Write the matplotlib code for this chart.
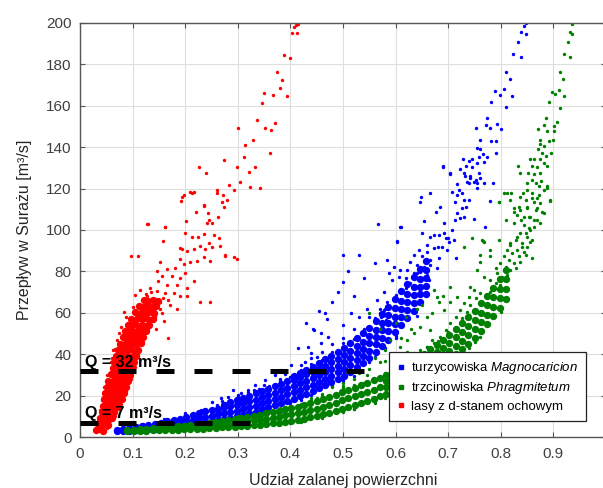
import matplotlib.pyplot as plt
from matplotlib.lines import Line2D

plt.rcParams['font.family'] = ['Liberation Sans', 'DejaVu Sans']
plt.rcParams['mathtext.fontset'] = 'custom'
plt.rcParams['mathtext.rm'] = 'Liberation Sans'
plt.rcParams['mathtext.it'] = 'Liberation Sans:italic'

# points: (share of flooded area, discharge m3/s)
# "core" = the dense part of each cloud, "spread" = the looser points around it

blue_core = [
    (.070, 2.7), (.070, 3.5), (.082, 2.9), (.082, 3.9), (.094, 3.1), (.094, 4.4), (.106, 3.3), (.106, 4.8),
    (.118, 3.5), (.118, 5.3), (.130, 3.7), (.130, 5.8), (.142, 3.9), (.142, 5.2), (.142, 6.4),
    (.154, 4.2), (.154, 5.6), (.154, 6.9), (.166, 4.5), (.166, 6.0), (.166, 7.5), (.178, 4.8), (.178, 6.4), (.178, 8.1),
    (.190, 5.2), (.190, 7.0), (.190, 8.8), (.202, 5.6), (.202, 7.6), (.202, 9.7), (.214, 6.1), (.214, 8.3), (.214, 10.6),
    (.226, 6.6), (.226, 9.0), (.226, 11.5), (.238, 7.1), (.238, 9.6), (.238, 12.4), (.250, 7.6), (.250, 10.3), (.250, 13.2),
    (.262, 8.1), (.262, 10.9), (.262, 13.7), (.274, 8.7), (.274, 11.5), (.274, 14.3), (.274, 15.6),
    (.286, 9.3), (.286, 12.1), (.286, 14.9), (.286, 16.8), (.298, 10.0), (.298, 12.8), (.298, 15.6), (.298, 18.0),
    (.310, 10.7), (.310, 13.5), (.310, 16.4), (.310, 19.0), (.322, 11.5), (.322, 14.3), (.322, 17.2), (.322, 20.0),
    (.334, 12.3), (.334, 15.2), (.334, 18.1), (.334, 21.1), (.346, 13.3), (.346, 16.2), (.346, 19.1), (.346, 22.3),
    (.358, 14.3), (.358, 17.2), (.358, 20.2), (.358, 23.4), (.370, 15.3), (.370, 18.3), (.370, 21.3), (.370, 24.6),
    (.382, 16.4), (.382, 19.5), (.382, 22.6), (.382, 25.7), (.394, 17.5), (.394, 20.6), (.394, 23.7), (.394, 27.0),
    (.406, 18.6), (.406, 21.7), (.406, 24.8), (.406, 27.7), (.406, 29.3),
    (.418, 19.8), (.418, 22.9), (.418, 26.0), (.418, 29.0), (.418, 30.8),
    (.430, 21.0), (.430, 24.1), (.430, 27.2), (.430, 30.2), (.430, 32.3),
    (.442, 22.2), (.442, 25.3), (.442, 28.5), (.442, 31.5), (.442, 34.0),
    (.454, 23.6), (.454, 26.7), (.454, 29.9), (.454, 33.0), (.454, 35.8),
    (.466, 25.1), (.466, 28.2), (.466, 31.4), (.466, 34.5), (.466, 37.6),
    (.478, 26.6), (.478, 29.7), (.478, 32.9), (.478, 36.1), (.478, 39.3),
    (.490, 28.1), (.490, 31.3), (.490, 34.5), (.490, 37.8), (.490, 41.2),
    (.502, 29.6), (.502, 32.9), (.502, 36.2), (.502, 39.6), (.502, 43.2),
    (.514, 31.6), (.514, 34.9), (.514, 38.2), (.514, 41.5), (.514, 45.4),
    (.526, 33.6), (.526, 37.0), (.526, 40.4), (.526, 43.8), (.526, 47.6),
    (.538, 35.6), (.538, 39.1), (.538, 42.6), (.538, 46.1), (.538, 50.0),
    (.550, 38.1), (.550, 41.7), (.550, 45.3), (.550, 48.9), (.550, 52.6),
    (.562, 41.1), (.562, 44.7), (.562, 48.3), (.562, 51.9), (.562, 56.0),
    (.574, 44.1), (.574, 47.8), (.574, 51.5), (.574, 55.3), (.574, 59.5),
    (.586, 47.1), (.586, 51.0), (.586, 54.9), (.586, 58.8), (.586, 63.0),
    (.598, 50.6), (.598, 54.4), (.598, 58.2), (.598, 62.1), (.598, 66.8),
    (.610, 54.1), (.610, 57.9), (.610, 61.7), (.610, 65.6), (.610, 70.3),
    (.622, 57.6), (.622, 61.4), (.622, 65.2), (.622, 69.0), (.622, 73.8),
    (.634, 61.1), (.634, 64.9), (.634, 68.7), (.634, 72.5), (.634, 77.2),
    (.646, 65.1), (.646, 68.9), (.646, 72.7), (.646, 76.5), (.646, 81.0),
    (.658, 69.1), (.658, 72.9), (.658, 76.7), (.658, 80.5), (.658, 85.0),
]

blue_spread = [
    (.847, 200), (.845, 198.7), (.839, 195.5), (.847, 194.7), (.832, 191), (.823, 185), (.839, 183.4),
    (.809, 176.5), (.817, 173), (.789, 167.3), (.798, 165.2), (.806, 168), (.821, 164.8), (.782, 162),
    (.810, 159.2), (.774, 154.2), (.752, 149.4), (.771, 150.6), (.780, 149.5), (.792, 151.3), (.801, 148.7),
    (.760, 143.5), (.755, 139.8), (.761, 139), (.782, 143), (.790, 143), (.790, 137), (.766, 136.6),
    (.774, 135.5), (.758, 135.5), (.746, 134.2), (.728, 134.5), (.739, 133.4), (.755, 132.6), (.768, 133),
    (.690, 131), (.703, 127.4), (.733, 131), (.723, 129.4), (.746, 130.2), (.732, 126.1), (.742, 126.1),
    (.758, 127.7), (.749, 123.4), (.755, 122.9), (.761, 125.3), (.768, 122.9), (.716, 122.4), (.739, 122.9),
    (.785, 122.9),
    (.566, 102.9), (.611, 101.3), (.603, 94.5), (.647, 113.7), (.649, 116.1), (.666, 118.1), (.677, 108.9),
    (.685, 111.3), (.692, 103.5), (.691, 130.6), (.703, 127), (.708, 118.5), (.713, 113.7), (.716, 116.9),
    (.720, 119.4), (.727, 117.7), (.730, 114.5), (.727, 110.5), (.717, 108), (.713, 104.8), (.723, 105.6),
    (.730, 106.5), (.733, 111.3), (.739, 114.5), (.749, 105.2), (.754, 120.2), (.742, 125), (.730, 127.4),
    (.736, 123.4), (.752, 124.2), (.654, 104.5), (.673, 97.6), (.692, 98.4), (.708, 100), (.699, 96),
    (.680, 92), (.660, 92.7), (.769, 101.6), (.779, 114.2),
    (.609, 101.3), (.651, 98.4), (.666, 96.8), (.682, 97.6), (.695, 96), (.701, 94.4), (.711, 95.2),
    (.689, 92), (.698, 90.4), (.673, 91.2), (.660, 89.6), (.644, 90.4), (.603, 94.4), (.635, 88),
    (.651, 87.2), (.666, 85.5), (.682, 86.3), (.628, 84.7), (.641, 83.1), (.654, 82.3), (.666, 83.1),
    (.679, 81.5), (.714, 86.3), (.584, 85.5), (.597, 82.3), (.609, 80.7), (.622, 80.7), (.635, 79.1),
    (.647, 79.9), (.660, 78.3), (.663, 75.9),
    (.587, 79.1), (.594, 75.9), (.606, 77.5), (.619, 76.7), (.628, 74.3), (.578, 70.2), (.584, 65.4),
    (.578, 61.4), (.572, 58.2), (.581, 56.6), (.575, 53.3),
    (.443, 52), (.459, 50), (.465, 59.7), (.414, 42.8), (.433, 43.6), (.440, 40.4), (.459, 45.2),
    (.471, 48.4), (.427, 36.4), (.402, 34.8), (.383, 32.3), (.370, 29.9), (.351, 27.5), (.332, 25.1),
    (.319, 22.7), (.306, 21.1), (.281, 19.5), (.268, 18.7), (.290, 22.7),
    (.430, 55), (.445, 51.5), (.455, 61), (.470, 57), (.480, 65), (.490, 70), (.500, 75), (.520, 68),
    (.510, 80), (.530, 88), (.500, 88), (.540, 77), (.560, 84), (.545, 62), (.530, 58), (.565, 66),
    (.500, 54), (.515, 60),
    (.200, 11.5), (.230, 13), (.260, 15.5), (.160, 8.5), (.120, 6.3), (.350, 25), (.380, 28), (.300, 20.5),
    (.250, 17), (.480, 45), (.500, 48), (.520, 52), (.460, 41), (.440, 38), (.420, 35), (.550, 58),
    (.570, 62), (.300, 9), (.400, 17), (.500, 28), (.550, 36), (.600, 49),
    (.260, 15.2), (.280, 16.5), (.300, 19.5), (.320, 21.5), (.340, 23), (.360, 24.5), (.380, 27.5),
    (.400, 29), (.420, 32.5), (.440, 35.5), (.460, 37), (.480, 41), (.500, 45.5), (.520, 47.5),
    (.540, 52), (.560, 57.5), (.580, 62), (.600, 68.5), (.620, 72), (.640, 79), (.270, 17.5),
    (.330, 22.8), (.390, 30.5), (.450, 38.5), (.510, 44.8), (.570, 60),
    (.280, 8), (.320, 10.4), (.360, 13), (.400, 16.5), (.440, 20.5), (.480, 24.8), (.520, 29.5),
    (.560, 38.5), (.600, 48), (.640, 58.5), (.340, 11.5), (.420, 18), (.500, 27), (.580, 43),
]

green_core = [
    (.090, 2.8), (.090, 3.4), (.102, 2.9), (.102, 3.6), (.114, 3.0), (.114, 3.8), (.126, 3.1), (.126, 4.0),
    (.138, 3.2), (.138, 4.3), (.150, 3.3), (.150, 4.5), (.162, 3.4), (.162, 4.7), (.174, 3.5), (.174, 5.0),
    (.186, 3.6), (.186, 5.2), (.198, 3.7), (.198, 5.5), (.210, 3.8), (.210, 5.7), (.222, 3.9), (.222, 6.0),
    (.234, 4.0), (.234, 6.3), (.246, 4.2), (.246, 5.5), (.246, 6.7), (.258, 4.4), (.258, 5.8), (.258, 7.1),
    (.270, 4.6), (.270, 6.1), (.270, 7.6), (.282, 4.8), (.282, 6.5), (.282, 8.1), (.294, 5.0), (.294, 6.9),
    (.294, 8.7), (.306, 5.2), (.306, 7.3), (.306, 9.3), (.318, 5.4), (.318, 7.6), (.318, 9.8),
    (.330, 5.6), (.330, 8.0), (.330, 10.3), (.342, 5.9), (.342, 8.4), (.342, 10.8), (.354, 6.2), (.354, 8.8),
    (.354, 11.4), (.366, 6.6), (.366, 9.3), (.366, 12.0), (.378, 7.0), (.378, 9.9), (.378, 12.7),
    (.390, 7.4), (.390, 10.4), (.390, 13.3), (.402, 7.8), (.402, 10.9), (.402, 14.0), (.414, 8.3),
    (.414, 11.5), (.414, 14.7), (.426, 8.9), (.426, 12.2), (.426, 15.5), (.438, 9.5), (.438, 12.9),
    (.438, 16.4), (.450, 10.2), (.450, 13.7), (.450, 17.4), (.462, 11.0), (.462, 14.5), (.462, 18.4),
    (.474, 11.8), (.474, 15.4), (.474, 19.4), (.486, 12.7), (.486, 16.6), (.486, 20.5), (.498, 13.7),
    (.498, 17.7), (.498, 21.6), (.510, 14.6), (.510, 18.7), (.510, 22.7), (.522, 15.5), (.522, 19.7),
    (.522, 23.8), (.534, 16.4), (.534, 20.6), (.534, 24.9), (.546, 17.4), (.546, 21.7), (.546, 26.1),
    (.558, 18.6), (.558, 22.9), (.558, 27.3), (.570, 19.8), (.570, 24.1), (.570, 28.5),
    (.582, 21.0), (.582, 24.0), (.582, 27.0), (.582, 29.9), (.594, 22.3), (.594, 25.4), (.594, 28.5), (.594, 31.4),
    (.606, 23.6), (.606, 26.7), (.606, 29.8), (.606, 32.9), (.618, 25.0), (.618, 28.2), (.618, 31.4), (.618, 34.5),
    (.630, 26.4), (.630, 29.7), (.630, 33.0), (.630, 36.3), (.642, 28.0), (.642, 31.4), (.642, 34.8), (.642, 38.2),
    (.654, 29.7), (.654, 33.2), (.654, 36.7), (.654, 40.2), (.666, 31.6), (.666, 35.2), (.666, 38.8), (.666, 42.3),
    (.678, 33.6), (.678, 37.3), (.678, 41.0), (.678, 44.5), (.690, 35.7), (.690, 39.5), (.690, 43.2), (.690, 46.9),
    (.702, 37.8), (.702, 41.7), (.702, 45.6), (.702, 49.4), (.714, 40.0), (.714, 44.0), (.714, 48.1), (.714, 52.1),
    (.726, 42.4), (.726, 46.6), (.726, 50.8), (.726, 54.9), (.738, 45.0), (.738, 49.3), (.738, 53.6), (.738, 57.9),
    (.750, 47.8), (.750, 52.2), (.750, 56.6), (.750, 61.1), (.762, 51.0), (.762, 55.5), (.762, 60.0), (.762, 64.5),
    (.774, 54.5), (.774, 59.1), (.774, 63.7), (.774, 68.2), (.786, 58.3), (.786, 62.9), (.786, 67.5), (.786, 72.2),
    (.798, 62.3), (.798, 67.0), (.798, 71.7), (.798, 76.4), (.810, 66.5), (.810, 71.3), (.810, 76.1), (.810, 80.9),
]

green_spread = [
    (.935, 199.5), (.932, 195.5), (.935, 194.7), (.927, 191), (.921, 185), (.932, 183.4), (.913, 176.5),
    (.918, 173), (.897, 166.5), (.903, 165.6), (.910, 167.7), (.921, 164.8), (.892, 161.6), (.913, 158.7),
    (.886, 154), (.870, 149), (.883, 150.6), (.901, 150.3), (.906, 152), (.888, 147.9), (.901, 148),
    (.874, 143.5), (.874, 141.5), (.891, 143), (.899, 143.5), (.882, 140.6), (.896, 137), (.885, 135.8),
    (.879, 137.4), (.870, 139), (.832, 131), (.837, 127.4), (.856, 134.2), (.863, 134.5), (.875, 134.2),
    (.882, 132.2), (.859, 131), (.869, 130.2), (.888, 131), (.852, 127.7), (.864, 127), (.875, 127.4),
    (.850, 122.9), (.859, 124), (.866, 122.9), (.877, 123.7), (.887, 121.3), (.872, 121.3),
    (.766, 94.8), (.796, 113.7), (.806, 118.1), (.820, 118.1), (.825, 108.9), (.834, 111.3), (.839, 104.8),
    (.842, 117.7), (.850, 111.3), (.853, 106.5), (.863, 104.8), (.856, 100), (.847, 98.4), (.831, 96.8),
    (.818, 93.5), (.840, 92), (.856, 94.4), (.869, 115.3), (.859, 115.3), (.868, 110.5), (.875, 103.2),
    (.882, 108), (.893, 114.2), (.887, 120.2),
    (.850, 119.4), (.859, 117.7), (.872, 116.9), (.882, 119.4), (.894, 114.5), (.837, 116.1), (.847, 114.5),
    (.863, 113.7), (.875, 112.9), (.812, 117.7), (.796, 113.7), (.818, 114.5), (.825, 110.5), (.837, 109.7),
    (.850, 110.5), (.866, 109.7), (.878, 108.9), (.831, 107.3), (.844, 106.5), (.856, 106.5), (.869, 104.9),
    (.809, 104.9), (.825, 103.3), (.844, 102.5), (.853, 100.8), (.863, 101.6),
    (.837, 98.4), (.850, 96.8), (.859, 95.2), (.828, 95.2), (.840, 93.6), (.850, 92), (.818, 92.8),
    (.831, 90.4), (.844, 89.6), (.812, 90.4), (.822, 88.8), (.834, 87.2), (.847, 88), (.859, 86.3),
    (.806, 87.2), (.815, 85.5), (.825, 83.9), (.837, 84.7), (.799, 83.9), (.809, 82.3), (.818, 80.7),
    (.828, 81.5), (.790, 81.5), (.768, 94.4), (.780, 87.2), (.761, 84.7), (.780, 90.4), (.793, 79.1),
    (.803, 77.5), (.812, 78.3),
    (.755, 80.7), (.768, 77.5), (.780, 75.9), (.790, 74.3), (.799, 73.5), (.749, 71), (.761, 69.4),
    (.739, 67.8), (.752, 67), (.730, 64.6), (.742, 63.8), (.723, 61.4), (.736, 60.6), (.714, 58.2),
    (.727, 57.4), (.704, 55), (.695, 51.7), (.685, 48.5), (.673, 45.3), (.660, 43.7), (.647, 42.1),
    (.635, 40.5), (.622, 41.3), (.609, 43.7), (.603, 39.7),
    (.673, 71), (.679, 67.8), (.704, 72.7), (.682, 65.4), (.704, 65.4), (.717, 67.8), (.742, 72.7),
    (.692, 61.4), (.660, 58.2), (.647, 53.3), (.635, 50.1), (.622, 46.9), (.666, 51.7), (.765, 95.2),
    (.761, 88), (.730, 92), (.746, 96), (.796, 95.2),
    (.560, 38), (.580, 42), (.590, 47), (.570, 36), (.550, 33), (.600, 55), (.620, 58), (.640, 62),
    (.630, 52), (.610, 48), (.650, 64), (.670, 60), (.690, 68), (.545, 30), (.520, 28), (.500, 26),
    (.480, 24), (.460, 21), (.440, 19), (.530, 31), (.580, 36.5), (.620, 38), (.670, 47), (.550, 60),
    (.570, 52),
    (.100, 3.9), (.150, 5.2), (.200, 6.3), (.250, 7.6), (.300, 10), (.350, 12.3), (.400, 15), (.450, 19),
    (.500, 24.5), (.320, 4.8), (.420, 7.2), (.520, 13.5), (.600, 21.5), (.700, 34.5), (.750, 46), (.800, 60.5),
    (.300, 10.3), (.340, 11.8), (.380, 13.8), (.420, 16), (.460, 19.8), (.500, 23.5), (.540, 26.2),
    (.580, 31), (.620, 36), (.660, 43.5), (.700, 50.5), (.740, 59), (.780, 70), (.360, 12.8), (.440, 18),
    (.520, 25), (.600, 34), (.680, 46.5), (.760, 65),
    (.400, 6.8), (.460, 9.2), (.520, 13.4), (.580, 18.8), (.640, 25), (.700, 34.5), (.760, 48.5),
    (.500, 12), (.560, 16.5), (.620, 22.5), (.680, 31), (.740, 43),
]

red_core = [
    (.031, 3.2), (.037, 3.8), (.043, 3.1),
    (.035, 6.2), (.041, 5.7), (.047, 6.4), (.053, 5.9),
    (.038, 9.1), (.044, 8.6), (.050, 9.4), (.056, 8.8), (.061, 9.2),
    (.041, 12.2), (.047, 11.6), (.053, 12.4), (.059, 11.8), (.065, 12.3),
    (.043, 15.1), (.049, 14.6), (.055, 15.4), (.061, 14.8), (.067, 15.3), (.072, 14.7),
    (.045, 18.2), (.051, 17.6), (.057, 18.4), (.063, 17.8), (.069, 18.3), (.075, 17.7), (.079, 18.4),
    (.048, 21.1), (.054, 20.6), (.060, 21.4), (.066, 20.8), (.072, 21.3), (.078, 20.7), (.084, 21.2),
    (.051, 24.2), (.057, 23.6), (.063, 24.4), (.069, 23.8), (.075, 24.3), (.081, 23.7), (.088, 24.1),
    (.054, 27.1), (.060, 26.6), (.066, 27.4), (.072, 26.8), (.078, 27.3), (.084, 26.7), (.091, 27.2),
    (.058, 30.2), (.064, 29.6), (.070, 30.4), (.076, 29.8), (.082, 30.3), (.088, 29.7), (.095, 30.1),
    (.062, 33.1), (.068, 32.6), (.074, 33.4), (.080, 32.8), (.086, 33.3), (.092, 32.7), (.099, 33.2),
    (.065, 36.2), (.071, 35.6), (.077, 36.4), (.083, 35.8), (.089, 36.3), (.095, 35.7), (.102, 36.1),
    (.068, 39.1), (.074, 38.6), (.080, 39.4), (.086, 38.8), (.092, 39.3), (.098, 38.7), (.106, 39.2),
    (.072, 42.2), (.078, 41.6), (.084, 42.4), (.090, 41.8), (.096, 42.3), (.102, 41.7), (.110, 42.1),
    (.076, 45.1), (.082, 44.6), (.088, 45.4), (.094, 44.8), (.100, 45.3), (.107, 44.7), (.115, 45.2),
    (.081, 48.2), (.087, 47.6), (.093, 48.4), (.099, 47.8), (.105, 48.3), (.112, 47.7), (.120, 48.1),
    (.086, 51.1), (.092, 50.6), (.098, 51.4), (.104, 50.8), (.111, 51.3), (.118, 50.7), (.126, 51.2),
    (.091, 54.2), (.097, 53.6), (.104, 54.4), (.111, 53.8), (.118, 54.3), (.125, 53.7), (.132, 54.1),
    (.097, 57.1), (.104, 56.6), (.111, 57.4), (.118, 56.8), (.125, 57.3), (.132, 56.7), (.139, 57.2),
    (.104, 60.2), (.111, 59.6), (.118, 60.4), (.125, 59.8), (.132, 60.3), (.140, 59.7),
    (.112, 63.1), (.120, 62.6), (.128, 63.4), (.136, 62.8), (.144, 63.2),
    (.121, 66.2), (.130, 65.6), (.139, 66.4), (.148, 65.8),
]

red_spread = [
    (.127, 102.9), (.161, 101.3), (.157, 94.5), (.190, 91.1), (.200, 98.4), (.194, 116.1), (.213, 118.1),
    (.227, 130.6), (.239, 127.4), (.236, 111.8), (.246, 104.8), (.260, 119.4), (.270, 113.7), (.274, 133.9),
    (.283, 121.8), (.292, 119.4), (.298, 130.6), (.300, 149.2), (.305, 123.4), (.311, 135.5), (.314, 141.1),
    (.321, 128.2), (.324, 121.0), (.329, 143.5), (.333, 130.6), (.337, 153.2), (.343, 120.2), (.346, 161.3),
    (.349, 166.1), (.352, 149.2), (.361, 137.1), (.363, 148.4), (.367, 165.3), (.371, 151.6), (.375, 176.1),
    (.381, 168.5), (.384, 172.6), (.387, 184.7), (.394, 164.5), (.400, 183.1), (.403, 195.2), (.410, 199.2),
    (.413, 195.2), (.407, 198), (.415, 199.5),
    (.097, 87.2), (.111, 87.2), (.129, 103.1), (.162, 101.5), (.192, 113.8), (.197, 117.0), (.210, 118.2),
    (.216, 118.2), (.202, 104.4), (.221, 108.9), (.236, 112.1), (.244, 108.0), (.241, 103.4), (.251, 103.4),
    (.263, 106.4), (.273, 111.0), (.260, 117.9), (.272, 117.0), (.279, 114.6), (.213, 96.6), (.225, 96.6),
    (.236, 98.2), (.246, 93.6), (.254, 97.4), (.265, 96.2), (.194, 90.8), (.203, 90.0), (.216, 90.8),
    (.229, 92.5), (.238, 90.8), (.251, 91.6), (.267, 92.5), (.276, 88.0), (.190, 85.9), (.181, 81.8),
    (.197, 83.4), (.210, 84.3), (.222, 85.1), (.235, 87.0), (.248, 85.1), (.152, 84.3), (.147, 80.2),
    (.165, 81.0), (.156, 77.7), (.175, 77.7), (.190, 76.9), (.200, 79.3), (.184, 73.6), (.203, 72.0),
    (.216, 75.2), (.229, 65.4), (.165, 73.6), (.149, 75.2), (.133, 72.0), (.114, 71.1), (.105, 68.7),
    (.127, 67.9), (.146, 70.3), (.162, 69.5), (.178, 69.5), (.190, 67.9), (.203, 67.9), (.168, 66.2),
    (.152, 65.4),
    (.292, 86.8), (.298, 86.1), (.276, 87.6), (.248, 65.4), (.168, 47.8), (.083, 60.6), (.067, 42.3),
    (.055, 30), (.048, 22), (.041, 14), (.060, 38), (.074, 50), (.140, 62), (.155, 60), (.160, 56),
    (.145, 52), (.172, 64), (.185, 62),
    (.034, 8), (.038, 13), (.042, 18), (.046, 24), (.052, 30), (.058, 36), (.063, 42), (.070, 47),
    (.078, 53), (.088, 58), (.100, 63),
    (.052, 4.5), (.066, 10), (.078, 16), (.088, 22), (.096, 28), (.104, 34), (.111, 40), (.120, 46),
    (.130, 52), (.142, 58), (.152, 62), (.158, 67), (.125, 69), (.135, 70),
]

series_labels = ['turzycowiska $\\it{Magnocaricion}$', 'trzcinowiska $\\it{Phragmitetum}$',
                 'lasy z d-stanem ochowym']
series_colors = ['#0000ff', '#008000', '#ff0000']

# discharge thresholds drawn as dashed lines
q_levels = [32, 7]
q_ends = [0.55, 0.33]
q_labels = ['Q = 32 m³/s', 'Q = 7 m³/s']

x_ticks = [0, .1, .2, .3, .4, .5, .6, .7, .8, .9]
x_ticklabels = ['0', '0.1', '0.2', '0.3', '0.4', '0.5', '0.6', '0.7', '0.8', '0.9']
y_ticks = list(range(0, 201, 20))

fig = plt.figure(figsize=(6.03, 4.88), dpi=100)
ax = fig.add_axes([0.1327, 0.1045, 0.8723, 0.8484])

groups = [(blue_core, blue_spread), (green_core, green_spread), (red_core, red_spread)]
for (core, spread), color in zip(groups, series_colors):
    cx, cy = zip(*core)
    sx, sy = zip(*spread)
    ax.scatter(cx, cy, s=28, color=color, linewidths=0, zorder=2)
    ax.scatter(sx, sy, s=6, color=color, linewidths=0, zorder=2)

for level, end, text in zip(q_levels, q_ends, q_labels):
    ax.plot([0, end], [level, level], color='black', lw=3.6, ls=(0, (3.6, 4.0)),
            dash_capstyle='butt', zorder=4)
    ax.text(0.0095, level + 2, text, fontsize=11.5, fontweight='bold', color='black', zorder=3)

ax.set_xlim(0, 1)
ax.set_ylim(0, 200)
ax.set_xticks(x_ticks)
ax.set_xticklabels(x_ticklabels)
ax.set_yticks(y_ticks)
ax.grid(True, color='#dedede', lw=0.8)
ax.set_axisbelow(True)
ax.tick_params(direction='in', top=True, right=True, length=3.5, width=0.8, color='#555555',
               labelsize=11, labelcolor='#404040')
ax.tick_params(axis='x', pad=7)
ax.tick_params(axis='y', pad=6)
for sp in ax.spines.values():
    sp.set_color('#555555')
    sp.set_linewidth(1.0)

ax.set_xlabel('Udział zalanej powierzchni', fontsize=11.5, color='#262626', labelpad=9)
ax.set_ylabel('Przepływ w Surażu [m³/s]', fontsize=11.5, color='#262626', labelpad=10)

handles = [Line2D([], [], ls='', marker='s', markersize=3.2, color=c) for c in series_colors]
leg = ax.legend(handles, series_labels, loc='lower right', bbox_to_anchor=(0.962, 0.039),
                borderaxespad=0, fontsize=9.5, frameon=True, fancybox=False, edgecolor='#222222',
                framealpha=1, handlelength=0.6, handletextpad=0.45, borderpad=0.6, labelspacing=0.32)
leg.get_frame().set_linewidth(0.9)
leg.set_zorder(5)

fig.savefig('out.png', dpi=100)
